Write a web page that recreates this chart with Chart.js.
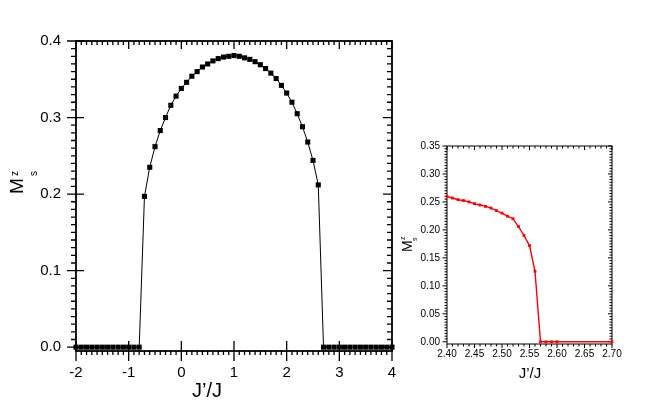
<!DOCTYPE html>
<html><head><meta charset="utf-8">
<script src="https://cdn.jsdelivr.net/npm/chart.js@4/dist/chart.umd.min.js"></script>
<style>
html,body{margin:0;padding:0;background:#fff;}
#wrap{position:relative;width:654px;height:409px;overflow:hidden;background:#fff;}
canvas{position:absolute;}
#c1{left:0;top:0;width:420px;height:409px;}
#c2{left:400px;top:120px;width:254px;height:280px;}
</style></head><body>
<div id="wrap">
<canvas id="c1" width="420" height="409"></canvas>
<canvas id="c2" width="254" height="280"></canvas>
</div>
<script>
// ---- Main panel data: staggered magnetization vs J'/J ----
const leftX = [-2.0,-1.9,-1.8,-1.7,-1.6,-1.5,-1.4,-1.3,-1.2,-1.1,-1.0,-0.9,-0.8,
  -0.7,-0.6,-0.5,-0.4,-0.3,-0.2,-0.1,0.0,0.1,0.2,0.3,0.4,0.5,0.6,0.7,0.8,0.9,1.0,
  1.1,1.2,1.3,1.4,1.5,1.6,1.7,1.8,1.9,2.0,2.1,2.2,2.3,2.4,2.5,2.6,
  2.7,2.8,2.9,3.0,3.1,3.2,3.3,3.4,3.5,3.6,3.7,3.8,3.9,4.0];
const leftM = [0,0,0,0,0,0,0,0,0,0,0,0,0,
  0.197,0.235,0.262,0.283,0.300,0.316,0.328,0.338,0.346,0.354,0.360,0.366,0.370,0.374,0.377,0.379,0.380,0.381,
  0.380,0.378,0.376,0.373,0.369,0.364,0.358,0.351,0.342,0.332,0.320,0.305,0.288,0.268,0.244,0.212,
  0,0,0,0,0,0,0,0,0,0,0,0,0,0];
const leftXTicks = [-2,-1,0,1,2,3,4];
const leftXTickLabels = ['-2','-1','0','1','2','3','4'];
const leftYTicks = [0,0.1,0.2,0.3,0.4];
const leftYTickLabels = ['0.0','0.1','0.2','0.3','0.4'];

// ---- Inset data: zoom near the transition ----
const rightX = [2.40,2.41,2.42,2.43,2.44,2.45,2.46,2.47,2.48,2.49,2.50,2.51,2.52,2.53,2.54,2.55,2.56,2.57,2.58,2.59,2.60,2.70];
const rightM = [0.260,0.257,0.254,0.2525,0.250,0.247,0.2445,0.242,0.239,0.2345,0.230,0.2245,0.220,0.206,0.190,0.172,0.126,0,0,0,0,0];
const rightXTicks = [2.40,2.45,2.50,2.55,2.60,2.65,2.70];
const rightXTickLabels = ['2.40','2.45','2.50','2.55','2.60','2.65','2.70'];
const rightYTicks = [0,0.05,0.10,0.15,0.20,0.25,0.30,0.35];
const rightYTickLabels = ['0.00','0.05','0.10','0.15','0.20','0.25','0.30','0.35'];

const FONT = '"Liberation Sans", Arial, sans-serif';

const frameTicks = {
  id: 'frameTicks',
  beforeDatasetsDraw(chart, args, o) {
    const {ctx, chartArea: a, scales: {x, y}} = chart;
    ctx.save();
    ctx.strokeStyle = '#000';
    ctx.lineWidth = o.tickWidth;
    ctx.beginPath();
    const nx = Math.round((o.xEnd - o.xStart) / o.xStep);
    for (let i = 0; i <= nx; i++) {
      const v = o.xStart + i * o.xStep;
      const px = x.getPixelForValue(v);
      const maj = i % o.xMajorEvery === 0;
      const b = maj ? o.bottomMaj : o.bottomMin;
      const t = maj ? o.topMaj : o.topMin;
      if (b[0] || b[1]) { ctx.moveTo(px, a.bottom - b[0]); ctx.lineTo(px, a.bottom + b[1]); }
      if (t[0] || t[1]) { ctx.moveTo(px, a.top + t[0]); ctx.lineTo(px, a.top - t[1]); }
    }
    const ny = Math.round((o.yEnd - o.yStart) / o.yStep);
    for (let i = 0; i <= ny; i++) {
      const v = o.yStart + i * o.yStep;
      const py = y.getPixelForValue(v);
      const maj = i % o.yMajorEvery === 0;
      const l = maj ? o.leftMaj : o.leftMin;
      const r = maj ? o.rightMaj : o.rightMin;
      if (l[0] || l[1]) { ctx.moveTo(a.left + l[0], py); ctx.lineTo(a.left - l[1], py); }
      if (r[0] || r[1]) { ctx.moveTo(a.right - r[0], py); ctx.lineTo(a.right + r[1], py); }
    }
    ctx.stroke();
    ctx.lineWidth = o.frameWidth;
    ctx.strokeRect(a.left, a.top, a.right - a.left, a.bottom - a.top);
    ctx.restore();
  }
};

const titles = {
  id: 'titles',
  afterDraw(chart, args, o) {
    const ctx = chart.ctx;
    for (const t of o.items) {
      ctx.save();
      ctx.fillStyle = '#000';
      ctx.translate(t.x, t.y);
      if (t.rot) ctx.rotate(t.rot);
      ctx.font = t.font;
      ctx.textAlign = t.align || 'left';
      ctx.textBaseline = 'alphabetic';
      ctx.fillText(t.text, t.dx || 0, t.dy || 0);
      ctx.restore();
    }
  }
};

function makeAxis(tickVals, tickLabels, min, max, fit, fontSize, pad) {
  return {
    type: 'linear', min, max,
    afterBuildTicks: s => { s.ticks = tickVals.map(v => ({value: v})); },
    afterFit: fit,
    grid: {display: false, drawTicks: false},
    border: {display: false},
    ticks: {
      autoSkip: false, maxRotation: 0, padding: pad, color: '#000',
      font: {family: FONT, size: fontSize},
      callback: (v, i) => tickLabels[i]
    }
  };
}

const ROT = -Math.PI / 2;

new Chart(document.getElementById('c1'), {
  type: 'scatter',
  data: {datasets: [{
    data: leftX.map((x, i) => ({x, y: leftM[i]})),
    showLine: true, borderColor: '#000', borderWidth: 1, tension: 0,
    pointStyle: 'rect', pointRadius: 3.6, pointBackgroundColor: '#000',
    pointBorderWidth: 0, clip: false
  }]},
  options: {
    responsive: false, animation: false, devicePixelRatio: 1,
    layout: {padding: {left: 0, top: 41, right: 28, bottom: 0}},
    plugins: {
      legend: {display: false}, tooltip: {enabled: false},
      frameTicks: {
        frameWidth: 1.8, tickWidth: 1.3,
        xStart: -2, xEnd: 4, xStep: 0.1, xMajorEvery: 10,
        bottomMaj: [10, 10], bottomMin: [0, 4], topMaj: [8, 0], topMin: [4, 0],
        yStart: 0, yEnd: 0.4, yStep: 0.01, yMajorEvery: 10,
        leftMaj: [8, 9], leftMin: [0, 5], rightMaj: [9, 0], rightMin: [5, 0]
      },
      titles: {items: [
        {text: 'J\u2019/J', x: 207, y: 397, font: '20px ' + FONT, align: 'center'},
        {text: 'M', x: 23, y: 194, rot: ROT, font: '19px ' + FONT},
        {text: 'z', x: 23, y: 194, rot: ROT, dx: 18, dy: -5, font: '10px ' + FONT},
        {text: 's', x: 23, y: 194, rot: ROT, dx: 18, dy: 14, font: '10px ' + FONT}
      ]}
    },
    scales: {
      x: makeAxis(leftXTicks, leftXTickLabels, -2, 4, s => { s.height = 58; }, 15, 13),
      y: makeAxis(leftYTicks, leftYTickLabels, -0.005, 0.4, s => { s.width = 76; }, 15, 15)
    }
  },
  plugins: [frameTicks, titles]
});

new Chart(document.getElementById('c2'), {
  type: 'scatter',
  data: {datasets: [{
    data: rightX.map((x, i) => ({x, y: rightM[i]})),
    showLine: true, borderColor: '#ff0000', borderWidth: 1.4, tension: 0,
    pointStyle: 'rect', pointRadius: 2, pointBackgroundColor: '#ff0000',
    pointBorderWidth: 0, clip: false
  }]},
  options: {
    responsive: false, animation: false, devicePixelRatio: 1,
    layout: {padding: {left: 0, top: 26, right: 42, bottom: 0}},
    plugins: {
      legend: {display: false}, tooltip: {enabled: false},
      frameTicks: {
        frameWidth: 1, tickWidth: 1,
        xStart: 2.40, xEnd: 2.70, xStep: 0.01, xMajorEvery: 5,
        bottomMaj: [0, 4], bottomMin: [0, 2.5], topMaj: [4, 0], topMin: [2.5, 0],
        yStart: 0, yEnd: 0.35, yStep: 0.005, yMajorEvery: 10,
        leftMaj: [0, 4.5], leftMin: [0, 2.5], rightMaj: [4, 0], rightMin: [2.5, 0]
      },
      titles: {items: [
        {text: 'J\u2019/J', x: 130, y: 258, font: '15px ' + FONT, align: 'center'},
        {text: 'M', x: 12, y: 132, rot: ROT, font: '14px ' + FONT},
        {text: 'z', x: 12, y: 132, rot: ROT, dx: 12, dy: -7, font: '7px ' + FONT},
        {text: 's', x: 12, y: 132, rot: ROT, dx: 11, dy: 5, font: '7px ' + FONT}
      ]}
    },
    scales: {
      x: makeAxis(rightXTicks, rightXTickLabels, 2.40, 2.70, s => { s.height = 56; }, 10, 4),
      y: makeAxis(rightYTicks, rightYTickLabels, -0.004, 0.35, s => { s.width = 47; }, 10, 7)
    }
  },
  plugins: [frameTicks, titles]
});
</script>
</body></html>
